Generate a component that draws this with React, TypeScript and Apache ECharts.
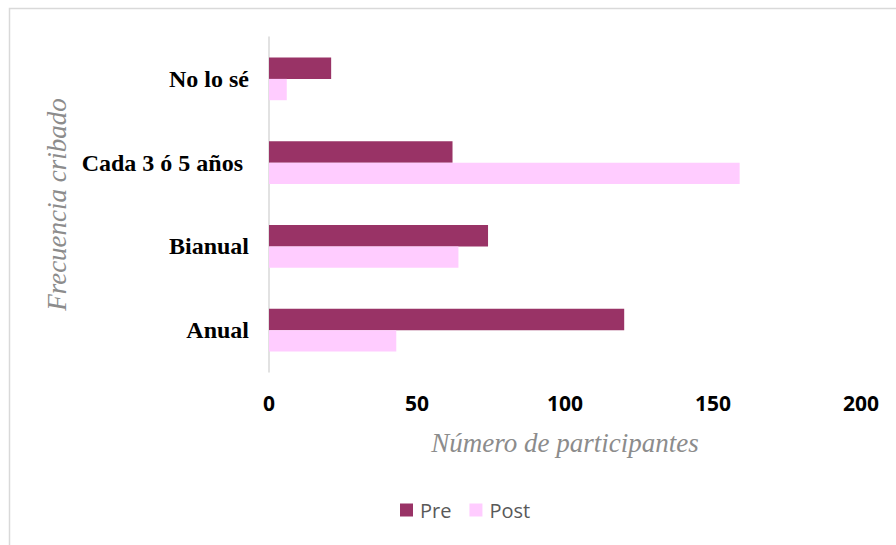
import React, { useEffect, useRef } from "react";
import * as echarts from "echarts";

const categories = ["Anual", "Bianual", "Cada 3 ó 5 años ", "No lo sé"];
const preValues = [120, 74, 62, 21];
const postValues = [43, 64, 159, 6];
const xTicks = [0, 50, 100, 150, 200];

export default function App() {
  const ref = useRef<HTMLDivElement>(null);
  useEffect(() => {
    if (!ref.current) return;
    const chart = echarts.init(ref.current, null, { renderer: "svg" });
    chart.setOption({
      animation: false,
      backgroundColor: "#ffffff",
      graphic: [
        {
          type: "rect",
          shape: { x: 9.5, y: 8.5, width: 900, height: 600 },
          style: { fill: "none", stroke: "#d9d9d9", lineWidth: 1.5 },
          silent: true,
        },
      ],
      grid: { left: 269, right: 35, top: 37, bottom: 173, containLabel: false },
      legend: {
        data: ["Pre", "Post"],
        bottom: 25,
        left: 400,
        padding: 0,
        itemWidth: 13,
        itemHeight: 13,
        itemGap: 18,
        icon: "rect",
        textStyle: { fontFamily: "Open Sans", fontSize: 20, color: "#595959", padding: [0, 0, 0, 2] },
      },
      xAxis: {
        type: "value",
        min: xTicks[0],
        max: xTicks[xTicks.length - 1],
        interval: 50,
        axisLine: { show: false },
        axisTick: { show: false },
        splitLine: { show: false },
        axisLabel: {
          margin: 20,
          fontFamily: "Open Sans",
          fontWeight: "bold",
          fontSize: 21,
          color: "#000000",
        },
        name: "Número de participantes",
        nameLocation: "middle",
        nameGap: 57,
        nameTextStyle: {
          fontFamily: "Liberation Serif",
          fontStyle: "italic",
          fontSize: 27,
          color: "#8c8c8c",
        },
      },
      yAxis: {
        type: "category",
        data: categories,
        axisLine: { show: true, lineStyle: { color: "#d9d9d9", width: 1.5 } },
        axisTick: { show: false },
        axisLabel: {
          margin: 20,
          fontFamily: "Liberation Serif",
          fontWeight: "bold",
          fontSize: 24,
          color: "#000000",
        },
        name: "Frecuencia cribado",
        nameLocation: "middle",
        nameGap: 192,
        nameTextStyle: {
          fontFamily: "Liberation Serif",
          fontStyle: "italic",
          fontSize: 27,
          color: "#8c8c8c",
        },
      },
      series: [
        {
          name: "Pre",
          type: "bar",
          data: preValues,
          barGap: "0%",
          barCategoryGap: "49%",
          itemStyle: { color: "#993366" },
        },
        {
          name: "Post",
          type: "bar",
          data: postValues,
          itemStyle: { color: "#ffccff" },
        },
      ],
    });
    return () => chart.dispose();
  }, []);
  return (
    <div
      ref={ref}
      style={{ position: "fixed", left: 0, top: 0, width: 896, height: 545 }}
    />
  );
}
